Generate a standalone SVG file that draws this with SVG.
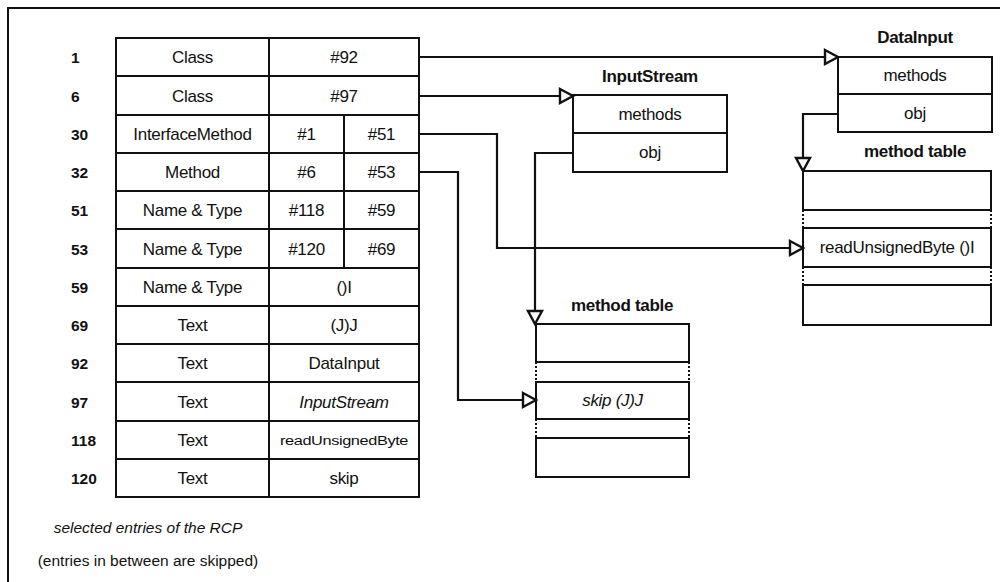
<svg xmlns="http://www.w3.org/2000/svg" width="1006" height="582" viewBox="0 0 1006 582">
  <style>
    .ln { fill: none; stroke: #111; stroke-width: 2; }
    .box { fill: #fff; stroke: #111; stroke-width: 2; }
    .dot { fill: none; stroke: #111; stroke-width: 2; stroke-dasharray: 2 2; }
    .conn { fill: none; stroke: #111; stroke-width: 2.2; }
    text { font-family: "Liberation Sans", Arial, sans-serif; fill: #111; }
    .c { font-size: 17px; text-anchor: middle; letter-spacing: -0.3px; }
    .i { font-style: italic; }
    .num { font-size: 15.5px; font-weight: bold; }
    .ttl { font-size: 17px; font-weight: bold; text-anchor: middle; letter-spacing: -0.3px; }
    .cap { font-size: 15.5px; text-anchor: middle; }
  </style>
  <defs>
    <marker id="open" markerUnits="userSpaceOnUse" markerWidth="20" markerHeight="20" refX="14" refY="8" orient="auto" overflow="visible">
      <path d="M1,1 L14,8 L1,15 Z" fill="#fff" stroke="#111" stroke-width="2.4" stroke-linejoin="miter"/>
    </marker>
  </defs>

  <rect width="1006" height="582" fill="#fff"/>

  <!-- frame -->
  <path class="ln" d="M8,582 V8 H1000" stroke-width="1.6"/>

  <!-- constant pool table -->
  <g id="rcp">
    <rect class="box" x="116" y="38" width="303" height="459"/>
    <path class="ln" d="M116,76 H419 M116,115 H419 M116,153 H419 M116,191 H419 M116,229 H419 M116,268 H419 M116,306 H419 M116,344 H419 M116,382 H419 M116,421 H419 M116,459 H419"/>
    <path class="ln" d="M269,38 V497 M344,115 V268"/>
    <g class="num">
      <text x="71" y="63">1</text>
      <text x="71" y="102">6</text>
      <text x="71" y="140">30</text>
      <text x="71" y="178">32</text>
      <text x="71" y="216">51</text>
      <text x="71" y="255">53</text>
      <text x="71" y="293">59</text>
      <text x="71" y="331">69</text>
      <text x="71" y="369">92</text>
      <text x="71" y="408">97</text>
      <text x="71" y="446">118</text>
      <text x="71" y="484">120</text>
    </g>
    <g class="c">
      <text x="192.5" y="63">Class</text>
      <text x="344" y="63">#92</text>
      <text x="192.5" y="102">Class</text>
      <text x="344" y="102">#97</text>
      <text x="192.5" y="140">InterfaceMethod</text>
      <text x="306.5" y="140">#1</text>
      <text x="381.5" y="140">#51</text>
      <text x="192.5" y="178">Method</text>
      <text x="306.5" y="178">#6</text>
      <text x="381.5" y="178">#53</text>
      <text x="192.5" y="216">Name &amp; Type</text>
      <text x="306.5" y="216">#118</text>
      <text x="381.5" y="216">#59</text>
      <text x="192.5" y="255">Name &amp; Type</text>
      <text x="306.5" y="255">#120</text>
      <text x="381.5" y="255">#69</text>
      <text x="192.5" y="293">Name &amp; Type</text>
      <text x="344" y="293">()I</text>
      <text x="192.5" y="331">Text</text>
      <text x="344" y="331">(J)J</text>
      <text x="192.5" y="369">Text</text>
      <text x="344" y="369">DataInput</text>
      <text x="192.5" y="408">Text</text>
      <text x="344" y="408" class="i">InputStream</text>
      <text x="192.5" y="446">Text</text>
      <text x="344" y="445" style="font-size:12.5px" textLength="128" lengthAdjust="spacingAndGlyphs">readUnsignedByte</text>
      <text x="192.5" y="484">Text</text>
      <text x="344" y="484">skip</text>
    </g>
  </g>

  <!-- caption -->
  <g id="caption" class="cap">
    <text x="148" y="533" class="i">selected entries of the RCP</text>
    <text x="148" y="566">(entries in between are skipped)</text>
  </g>

  <!-- InputStream class object -->
  <g id="inputstream">
    <text class="ttl" x="650" y="82">InputStream</text>
    <rect class="box" x="573" y="95" width="154" height="77"/>
    <path class="ln" d="M573,133 H727"/>
    <text class="c" x="650" y="120">methods</text>
    <text class="c" x="650" y="158">obj</text>
  </g>

  <!-- DataInput class object -->
  <g id="datainput">
    <text class="ttl" x="915" y="43">DataInput</text>
    <rect class="box" x="838" y="57" width="154" height="75"/>
    <path class="ln" d="M838,94 H992"/>
    <text class="c" x="915" y="81">methods</text>
    <text class="c" x="915" y="119">obj</text>
  </g>

  <!-- method table of InputStream -->
  <g id="mt-inputstream">
    <text class="ttl" x="622" y="311">method table</text>
    <rect class="box" x="536" y="324" width="153" height="38"/>
    <rect class="box" x="536" y="382" width="153" height="37"/>
    <rect class="box" x="536" y="438" width="153" height="39"/>
    <path class="dot" d="M536,362 V382 M689,362 V382 M536,419 V438 M689,419 V438"/>
    <text class="c i" x="612.5" y="406">skip (J)J</text>
  </g>

  <!-- method table of DataInput -->
  <g id="mt-datainput">
    <text class="ttl" x="915" y="157">method table</text>
    <rect class="box" x="803" y="171" width="188" height="39"/>
    <rect class="box" x="803" y="228" width="188" height="39"/>
    <rect class="box" x="803" y="285" width="188" height="40"/>
    <path class="dot" d="M803,210 V228 M991,210 V228 M803,267 V285 M991,267 V285"/>
    <text class="c" x="897" y="253">readUnsignedByte ()I</text>
  </g>

  <!-- references -->
  <g id="connectors">
    <path class="conn" d="M419,57 H838" marker-end="url(#open)"/>
    <path class="conn" d="M419,96 H573" marker-end="url(#open)"/>
    <path class="conn" d="M419,134 H497 V248 H803" marker-end="url(#open)"/>
    <path class="conn" d="M419,172 H458 V400 H536" marker-end="url(#open)"/>
    <path class="conn" d="M573,153 H535 V324" marker-end="url(#open)"/>
    <path class="conn" d="M838,114 H803 V171" marker-end="url(#open)"/>
  </g>
</svg>
